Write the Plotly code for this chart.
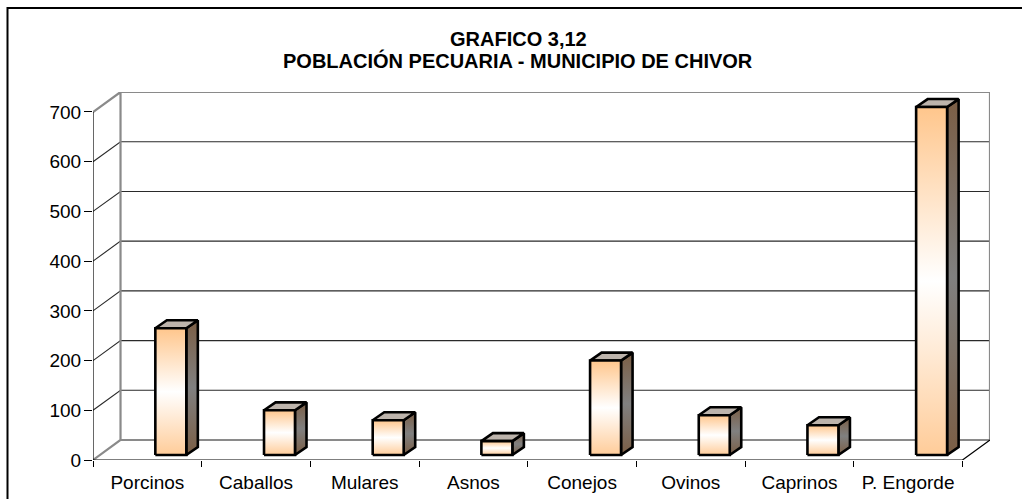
import plotly.graph_objects as go

# ---- data ----
categories = ["Porcinos", "Caballos", "Mulares", "Asnos", "Conejos", "Ovinos", "Caprinos", "P. Engorde"]
values = [255, 90, 70, 28, 190, 80, 60, 700]
y_ticks = [0, 100, 200, 300, 400, 500, 600, 700]
title_line1 = "GRAFICO 3,12"
title_line2 = "POBLACIÓN PECUARIA - MUNICIPIO DE CHIVOR"

# ---- 3D projection constants (in axis units) ----
N = len(categories)
DX = 0.2532      # wall depth along x (category units)
DY = 40.2        # wall depth along y (value units)
BAR_OFF = 0.216  # bar front face centre offset from category centre
BAR_W = 0.285    # bar width
BASE = 10.0      # bar base level (middle depth plane)
BDX = 0.106      # bar depth along x
BDV = 16.0       # bar depth along y
YMAX = max(y_ticks)

FONT = "Arial, 'Liberation Sans', sans-serif"

fig = go.Figure()

def line_trace(xs, ys, color, width):
    fig.add_trace(go.Scatter(x=xs, y=ys, mode="lines", line=dict(color=color, width=width),
                             hoverinfo="skip", showlegend=False))

# back wall gridlines with side diagonals
gx, gy = [], []
for v in y_ticks[1:-1]:
    gx += [-0.5, -0.5 + DX, N - 0.5 + DX, None]
    gy += [v, v + DY, v + DY, None]
line_trace(gx, gy, "#2a2a2a", 1.1)

# wall frame (gray)
wx = [-0.5, -0.5 + DX, -0.5 + DX, -0.5, None,
      -0.5 + DX, N - 0.5 + DX, N - 0.5 + DX, -0.5 + DX]
wy = [0, DY, YMAX + DY, YMAX, None,
      YMAX + DY, YMAX + DY, DY, DY]
line_trace(wx, wy, "#8a8a8a", 2.2)

# front axis and floor edge (black)
line_trace([-0.5, -0.5, None, -0.5, N - 0.5, N - 0.5 + DX],
           [YMAX, 0, None, 0, 0, DY], "#000000", 1.2)

# bars
front_scale = [[0, "#FFCC99"], [0.5, "#FFFFFF"], [1, "#FFC68C"]]
side_scale = [[0, "#7B5E45"], [0.5, "#808080"], [1, "#7B5E45"]]
for i, v in enumerate(values):
    xl = i + BAR_OFF - BAR_W / 2
    xr = xl + BAR_W
    y0, y1 = BASE, BASE + v
    # side face
    fig.add_trace(go.Scatter(
        x=[xr, xr + BDX, xr + BDX, xr, xr], y=[y0, y0 + BDV, y1 + BDV, y1, y0],
        mode="lines", fill="toself",
        fillgradient=dict(type="vertical", colorscale=side_scale),
        line=dict(color="black", width=2.6), hoverinfo="skip", showlegend=False))
    # top face
    fig.add_trace(go.Scatter(
        x=[xl, xl + BDX, xr + BDX, xr, xl], y=[y1, y1 + BDV, y1 + BDV, y1, y1],
        mode="lines", fill="toself", fillcolor="#BDB4AC",
        line=dict(color="black", width=2.6), hoverinfo="skip", showlegend=False))
    # front face
    fig.add_trace(go.Scatter(
        x=[xl, xr, xr, xl, xl], y=[y0, y0, y1, y1, y0],
        mode="lines", fill="toself",
        fillgradient=dict(type="vertical", colorscale=front_scale),
        line=dict(color="black", width=2.6), hoverinfo="skip",
        name=categories[i], showlegend=False))

W, H = 1022, 499
L, R, T, B = 93, 32, 92, 39
pw, ph = W - L - R, H - T - B

def px_x(p):
    return (p - L) / pw

def px_y(p):
    return (H - B - p) / ph

fig.update_layout(
    width=W, height=H,
    margin=dict(l=L, r=R, t=T, b=B, autoexpand=False),
    paper_bgcolor="white", plot_bgcolor="white",
    font=dict(family=FONT, size=19, color="black"),
    showlegend=False,
    xaxis=dict(range=[-0.5, N - 0.5 + DX], tickmode="array",
               tickvals=list(range(N)), ticktext=categories,
               ticks="", showgrid=False, zeroline=False, showline=False,
               tickfont=dict(size=19), ticklabelstandoff=9,
               minor=dict(tickmode="array", tickvals=[k - 0.5 for k in range(N + 1)],
                          ticks="outside", ticklen=6, tickcolor="black", tickwidth=1,
                          showgrid=False),
               fixedrange=True),
    yaxis=dict(range=[0, YMAX + DY], tickmode="array", tickvals=y_ticks,
               ticks="outside", ticklen=8, tickcolor="black", tickwidth=1,
               showgrid=False, zeroline=False, showline=False,
               tickfont=dict(size=19), ticklabelstandoff=-1, fixedrange=True),
    annotations=[
        dict(text="<b>" + title_line1 + "</b>", xref="paper", yref="paper",
             x=px_x(518), y=px_y(39), xanchor="center", yanchor="middle",
             showarrow=False, font=dict(size=20, family=FONT)),
        dict(text="<b>" + title_line2 + "</b>", xref="paper", yref="paper",
             x=px_x(518), y=px_y(61), xanchor="center", yanchor="middle",
             showarrow=False, font=dict(size=20, family=FONT)),
    ],
    shapes=[dict(type="rect", xref="paper", yref="paper",
                 x0=px_x(7.5), x1=px_x(1040), y0=px_y(520), y1=px_y(8),
                 line=dict(color="black", width=2), fillcolor="rgba(0,0,0,0)", layer="below")],
)

fig.write_html("out.html", config={"displayModeBar": False},
               post_script="document.body.style.margin='0';")
